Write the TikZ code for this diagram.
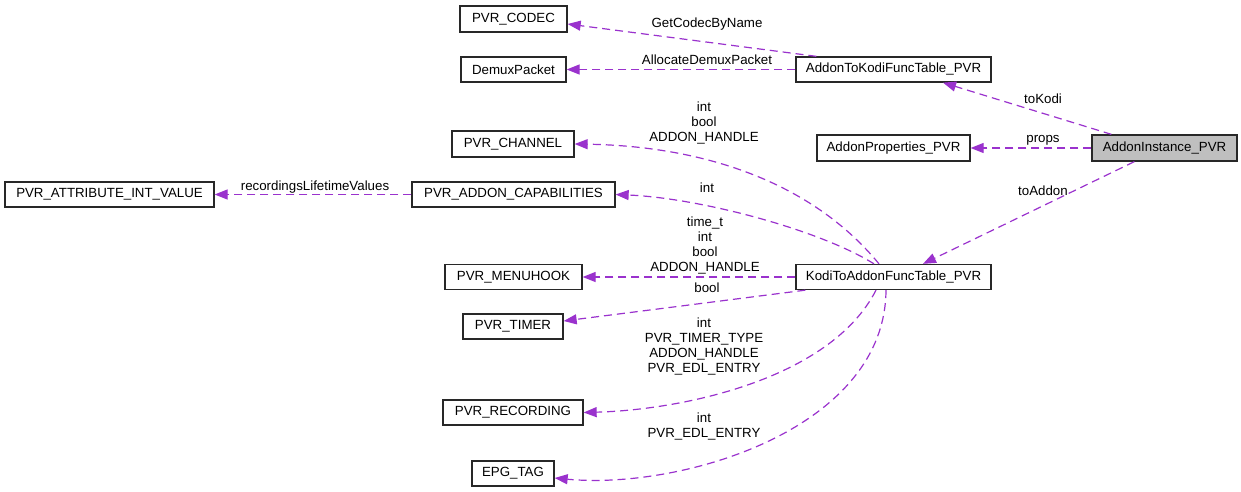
\documentclass[tikz,border=0pt]{standalone}
\usepackage{fontspec}
\setmainfont{Liberation Sans}
\usetikzlibrary{arrows.meta}
\definecolor{edgecol}{RGB}{154,50,205}
\definecolor{boxline}{RGB}{40,40,40}
\definecolor{instfill}{RGB}{191,191,191}
\tikzset{
  cls/.style={draw=boxline, line width=1.3pt, fill=white, inner sep=0pt, minimum height=25pt, font=\fontsize{13.3}{15}\selectfont},
  lbl/.style={inner sep=0pt, align=center, font=\fontsize{13.3}{15}\selectfont},
  edge/.style={draw=edgecol, line width=1.2pt, dash pattern=on 8pt off 5pt, -{Triangle[length=13pt,width=10pt,fill=edgecol]}},
}
\begin{document}
\begin{tikzpicture}[x=1pt,y=-1pt]
\useasboundingbox (0,0) rectangle (1241,492);
% nodes
\node[cls, minimum width=107pt, minimum height=26pt] (codec) at (513.5,19) {PVR\_CODEC};
\node[cls, minimum width=105pt] (demux) at (513.5,69.5) {DemuxPacket};
\node[cls, minimum width=195pt] (a2k) at (893.5,69.5) {AddonToKodiFuncTable\_PVR};
\node[cls, minimum width=122pt, minimum height=26pt] (channel) at (513,144) {PVR\_CHANNEL};
\node[cls, minimum width=153pt, minimum height=26pt] (props) at (893.5,148) {AddonProperties\_PVR};
\node[cls, fill=instfill, minimum width=145pt, minimum height=26pt] (inst) at (1164.5,148) {AddonInstance\_PVR};
\node[cls, minimum width=209pt] (attr) at (109.5,194.5) {PVR\_ATTRIBUTE\_INT\_VALUE};
\node[cls, minimum width=203pt] (cap) at (513.5,194.5) {PVR\_ADDON\_CAPABILITIES};
\node[cls, minimum width=137pt] (menu) at (513.5,277) {PVR\_MENUHOOK};
\node[cls, minimum width=195pt] (k2a) at (893.5,277) {KodiToAddonFuncTable\_PVR};
\node[cls, minimum width=100pt] (timer) at (513,326.5) {PVR\_TIMER};
\node[cls, minimum width=140pt] (rec) at (513,412.5) {PVR\_RECORDING};
\node[cls, minimum width=82pt] (epg) at (513,473.5) {EPG\_TAG};
% edges
\draw[edge] ([xshift=21pt]a2k.north west) -- ([yshift=-5pt]codec.east);
\draw[edge] (a2k.west) -- (demux.east);
\draw[edge] ([xshift=20pt]inst.north west) -- ([xshift=49.5pt]a2k.south);
\draw[edge] (inst.west) -- (props.east);
\draw[edge] ([xshift=43pt]inst.south west) -- ([xshift=29.5pt]k2a.north);
\draw[edge] ([xshift=-14.5pt]k2a.north) .. controls (810,180) and (700,146) .. (channel.east);
\draw[edge] ([xshift=-19.5pt]k2a.north) .. controls (820,230) and (700,198) .. (cap.east);
\draw[edge] (k2a.west) -- (menu.east);
\draw[edge] ([xshift=10pt]k2a.south west) -- ([yshift=5.5pt]timer.east);
\draw[edge] ([xshift=-17.5pt]k2a.south) .. controls (830,380) and (680,410) .. (rec.east);
\draw[edge] ([xshift=-7.5pt]k2a.south) .. controls (885,430) and (680,490) .. ([yshift=-4.5pt]epg.east);
\draw[edge] (cap.west) -- (attr.east);
% labels
\node[lbl] (l1) at (707,24) {GetCodecByName};
\node[lbl] (l2) at (707,60) {AllocateDemuxPacket};
\node[lbl] (l3) at (1043,99) {toKodi};
\node[lbl] (l4) at (1043,140) {props};
\node[lbl] (l5) at (1043,191) {toAddon};
\node[lbl] (l6) at (704,123) {int\\bool\\ADDON\_HANDLE};
\node[lbl] (l7) at (707,188) {int};
\node[lbl] (l8) at (705,246) {time\_t\\int\\bool\\ADDON\_HANDLE};
\node[lbl] (l9) at (707,288) {bool};
\node[lbl] (l10) at (704,346.5) {int\\PVR\_TIMER\_TYPE\\ADDON\_HANDLE\\PVR\_EDL\_ENTRY};
\node[lbl] (l11) at (704,426.5) {int\\PVR\_EDL\_ENTRY};
\node[lbl] (l12) at (315,187) {recordingsLifetimeValues};
\end{tikzpicture}
\end{document}
